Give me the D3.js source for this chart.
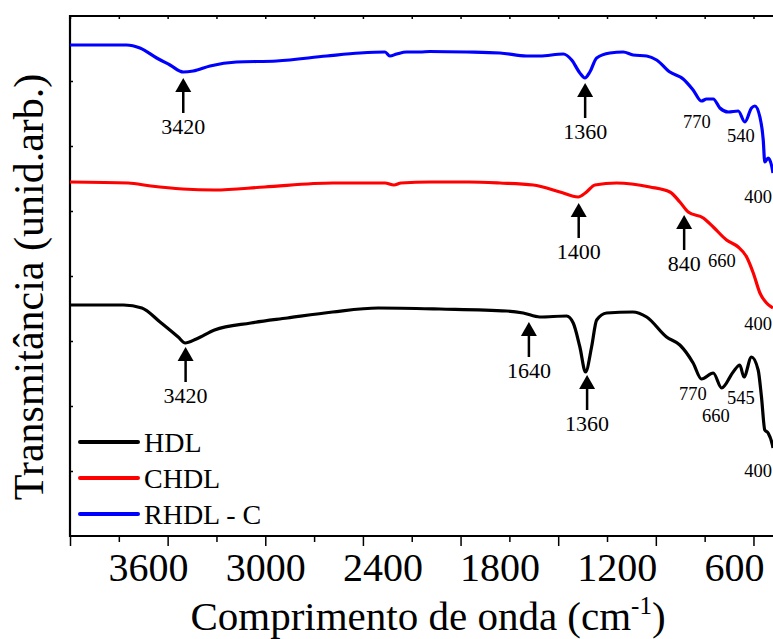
<!DOCTYPE html>
<html>
<head>
<meta charset="utf-8">
<script src="https://cdn.jsdelivr.net/npm/d3@7"></script>
<style>
  body { margin: 0; background: #fff; }
  text { font-family: "Liberation Serif", "Times New Roman", serif; fill: #000; }
</style>
</head>
<body>
<svg id="ftir" width="773" height="639"></svg>
<script>
// FTIR spectra, wavenumber (cm-1) vs transmittance (arbitrary units, offset)
var seriesNames = ["HDL", "CHDL", "RHDL - C"];
var seriesColors = ["#000000", "#ff0000", "#0000ff"];

var hdl = [[4000,231],[3726,231],[3632,228],[3539,214],[3446,199],[3410,193],[3353,197],[3260,206],
  [3074,213],[2887,218],[2655,224],[2422,228],[2106,227],[1764,225],[1679,223],[1594,219],[1457,220],
  [1423,213],[1389,189],[1360,164],[1329,189],[1303,216],[1252,223],[1119,224],[1047,219],[945,199],
  [877,191],[809,173],[766,157],[706,163],[663,148],[604,164],[570,171],[549,159],[510,179],[476,166],
  [459,139],[442,106],[425,103],[403,91],[400,88]];

var chdl = [[4000,354],[3702,353],[3586,350],[3423,347],[3260,346],[3004,349],[2655,353],[2387,353],
  [2341,351],[2305,353],[2154,354],[1957,354],[1798,353],[1628,351],[1491,344],[1398,339],[1355,344],
  [1312,351],[1201,353],[1030,349],[928,344],[877,334],[834,324],[757,318],[706,309],[638,296],
  [578,289],[535,279],[501,263],[467,243],[433,233],[408,229],[400,228]];

var rhdlC = [[4000,491],[3710,491],[3642,488],[3556,478],[3488,471],[3420,464],[3369,465],[3283,470],
  [3147,474],[2942,475],[2686,480],[2515,483],[2387,484],[2362,480],[2327,482],[2276,484],[2208,484],
  [2157,484.5],[1969,484],[1798,483],[1662,480],[1594,480],[1474,482],[1431,476],[1389,463],[1363,458],
  [1338,464],[1303,478],[1235,483],[1167,484],[1116,481],[1047,480],[996,476],[928,464],[860,457],
  [809,446],[766,435],[740,437],[706,437],[672,428],[629,424],[578,425],[544,414],[510,428],[493,430],
  [467,419],[450,396],[442,374],[425,378],[408,371],[400,363]];

// arrows: position (cm-1), tip value, label
var arrowWn = [3420, 1362, 1395, 855, 3408, 1650, 1352];
var arrowTip = [458, 453, 333, 321, 189, 214, 161];
var arrowText = ["3420", "1360", "1400", "840", "3420", "1640", "1360"];

// plain band labels: centre (cm-1), baseline value, label
var bandWn = [790, 564, 449, 662, 460, 810, 692, 564, 460];
var bandVal = [408, 394, 333, 269, 206, 136, 114, 132, 59];
var bandText = ["770", "540", "400", "660", "400", "770", "660", "545", "400"];

var xLabels = [3600, 3000, 2400, 1800, 1200, 600];

var W = 773;
var svg = d3.select("#ftir");
var x = d3.scaleLinear().domain([4000, 400]).range([70, 773]);
var y = d3.scaleLinear().domain([0, 520]).range([536, 16]);

svg.append("defs").append("clipPath").attr("id", "plotClip")
  .append("rect").attr("x", 70).attr("y", 16).attr("width", 710).attr("height", 520);

// ticks
var major = d3.range(4000, 400, -500);
var minor = d3.range(3750, 400, -500);
svg.append("g").attr("transform", "translate(0,536)")
  .call(d3.axisBottom(x).tickValues(major).tickSize(10).tickFormat(""));
svg.append("g").attr("transform", "translate(0,536)")
  .call(d3.axisBottom(x).tickValues(minor).tickSize(6).tickFormat(""));
svg.append("g").attr("transform", "translate(0,16)")
  .call(d3.axisTop(x).tickValues(d3.range(4000, 400, -250)).tickSize(-3).tickFormat(""));
svg.append("g").attr("transform", "translate(70,0)")
  .call(d3.axisLeft(y).tickValues(d3.range(65, 520, 65)).tickSize(-3).tickFormat(""));

var lab = svg.append("g").attr("transform", "translate(0,536)")
  .call(d3.axisBottom(x).tickValues(xLabels).tickSize(0).tickFormat(d3.format("d")));
lab.selectAll("text").attr("y", 45).attr("dy", 0)
  .style("font-size", "40px").style("font-family", "Liberation Serif, serif");

svg.selectAll(".domain").remove();
svg.selectAll(".tick line").attr("stroke", "#000").attr("stroke-width", 1.5);

// frame
svg.append("path")
  .attr("d", "M775,16H70V536H775")
  .attr("fill", "none").attr("stroke", "#000").attr("stroke-width", 2.2);

// spectra
var line = d3.line()
  .x(function(d) { return x(d[0]); })
  .y(function(d) { return y(d[1]); })
  .curve(d3.curveMonotoneX);

var allSeries = [hdl, chdl, rhdlC];
svg.append("g").attr("clip-path", "url(#plotClip)")
  .selectAll("path").data(allSeries).enter().append("path")
    .attr("fill", "none")
    .attr("stroke", function(d, i) { return seriesColors[i]; })
    .attr("stroke-width", 3.2)
    .attr("stroke-linejoin", "round")
    .attr("d", line);

// arrows
var arr = svg.append("g");
arrowWn.forEach(function(wn, i) {
  var ax = x(wn), ty = y(arrowTip[i]);
  arr.append("path")
    .attr("d", "M" + ax + "," + ty + "L" + (ax - 8) + "," + (ty + 14) + "L" + (ax + 8) + "," + (ty + 14) + "Z")
    .attr("fill", "#000");
  arr.append("line")
    .attr("x1", ax).attr("x2", ax)
    .attr("y1", ty + 12).attr("y2", ty + 35)
    .attr("stroke", "#000").attr("stroke-width", 2.5);
  arr.append("text")
    .attr("x", ax).attr("y", ty + 56)
    .attr("text-anchor", "middle")
    .attr("font-size", 22)
    .text(arrowText[i]);
});

// band labels (kept inside the picture at the right edge)
svg.append("g").selectAll("text").data(bandText).enter().append("text")
  .attr("x", function(d, i) { return x(bandWn[i]); })
  .attr("y", function(d, i) { return y(bandVal[i]); })
  .attr("text-anchor", "middle")
  .attr("font-size", 18.5)
  .text(function(d) { return d; })
  .each(function() {
    var b = this.getBBox();
    if (b.x + b.width > W - 1) d3.select(this).attr("x", W - 1 - b.width / 2);
  });

// legend
var leg = svg.append("g");
seriesNames.forEach(function(name, i) {
  var ly = 442 + i * 36;
  leg.append("line")
    .attr("x1", 80).attr("x2", 138).attr("y1", ly).attr("y2", ly)
    .attr("stroke", seriesColors[i]).attr("stroke-width", 4).attr("stroke-linecap", "round");
  leg.append("text")
    .attr("x", 144).attr("y", ly + 10)
    .attr("font-size", 28)
    .text(name);
});

// axis titles
svg.append("text")
  .attr("transform", "translate(43,287) rotate(-90)")
  .attr("text-anchor", "middle")
  .attr("font-size", 42)
  .text("Transmitância (unid.arb.)");

var xt = svg.append("text")
  .attr("x", 428).attr("y", 630)
  .attr("text-anchor", "middle")
  .attr("font-size", 41);
xt.append("tspan").text("Comprimento de onda (cm");
xt.append("tspan").attr("dy", -16).attr("font-size", 25).text("-1");
xt.append("tspan").attr("dy", 16).text(")");
</script>
</body>
</html>
